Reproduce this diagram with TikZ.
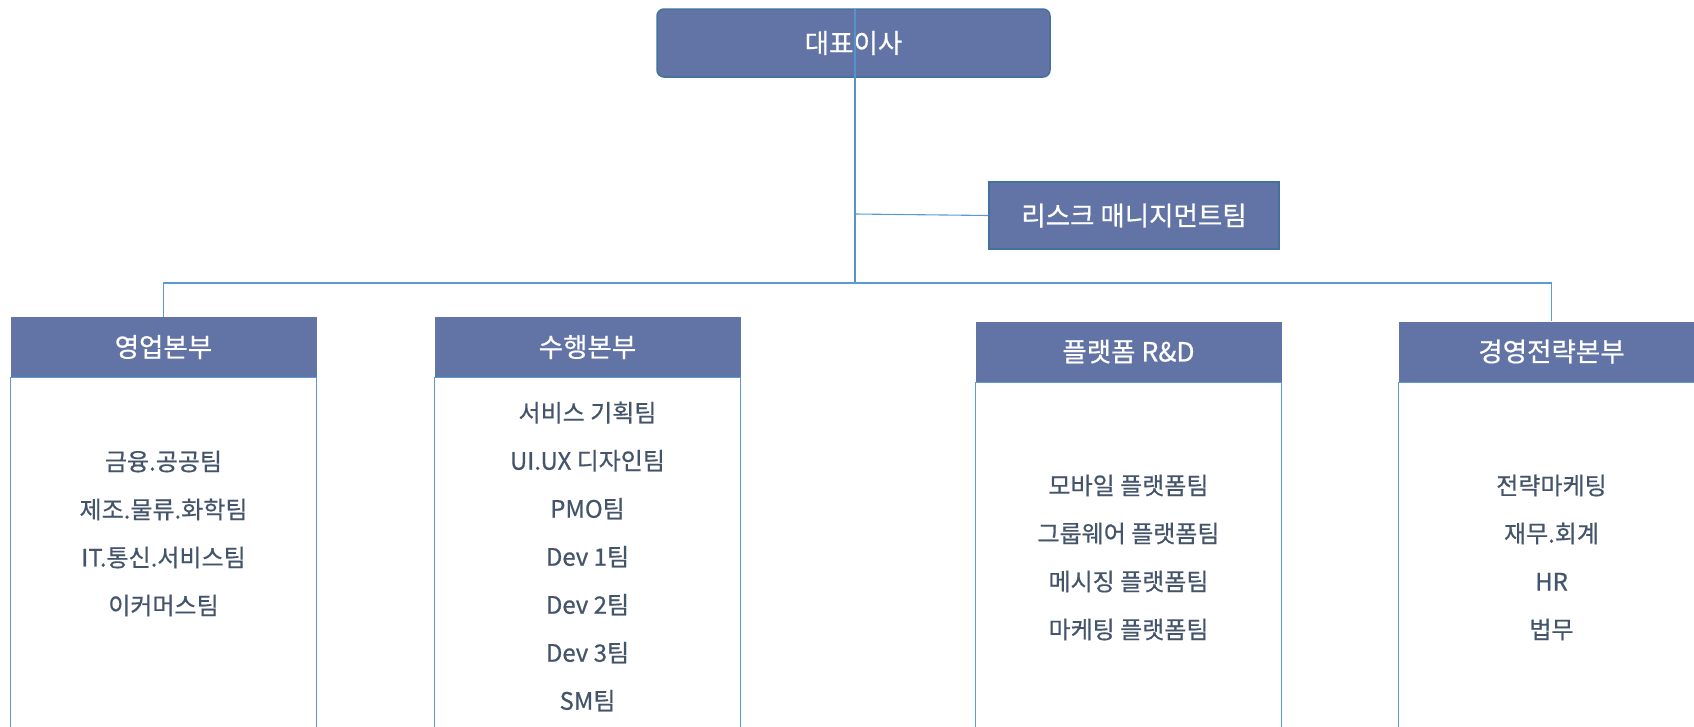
\documentclass[tikz,border=0pt]{standalone}
\usepackage{fontspec}
\setmainfont{Noto Sans CJK KR}[FakeBold=0.6]
\usetikzlibrary{positioning}
\definecolor{hdr}{HTML}{6273A5}
\definecolor{rim}{HTML}{41719C}
\definecolor{wire}{HTML}{5B9BD5}
\definecolor{ink}{HTML}{44546A}
\newcommand{\orgfont}{\fontsize{24}{48}\selectfont}
\newcommand{\headfont}{\fontsize{26.5}{30}\selectfont}

\begin{document}
\begin{tikzpicture}[x=1pt,y=-1pt,node distance=0pt,
    wire/.style={draw=wire,line width=1.1pt},
    boss/.style={draw=rim,fill=hdr,line width=1.5pt,text=white,font=\headfont,
        minimum width=393pt,minimum height=68pt,rounded corners=7pt},
    staff/.style={draw=rim,fill=hdr,line width=1.5pt,text=white,font=\headfont,
        minimum width=290pt,minimum height=67pt},
    head/.style={fill=hdr,text=white,font=\headfont,minimum width=306pt,minimum height=60pt},
    body/.style={draw=wire,line width=0.9pt,minimum width=306pt,minimum height=420pt},
    team/.style={text=ink,font=\orgfont,align=center}]
    \useasboundingbox (0,0) rectangle (1694,726);
    \clip (0,0) rectangle (1694,726);

    \node[boss] (ceo) at (853.5,43) {대표이사};
    \node[staff] (risk) at (1134,215.5) {리스크 매니지먼트팀};

    \node[head] (sales) at (163.5,347) {영업본부};
    \node[head] (exec) at (587.5,347) {수행본부};
    \node[head] (plat) at (1128.5,351.5) {플랫폼 R\&D};
    \node[head] (strat) at (1551.5,351.5) {경영전략본부};

    \node[body] (salesB) [below=of sales] {};
    \node[body] (execB) [below=of exec] {};
    \node[body] (platB) [below=of plat] {};
    \node[body] (stratB) [below=of strat] {};

    \node[team] (salesT) at (163.5,533.5) {금융.공공팀\\제조.물류.화학팀\\IT.통신.서비스팀\\이커머스팀};
    \node[team] (execT) at (587.5,556.5) {서비스 기획팀\\UI.UX 디자인팀\\PMO팀\\Dev 1팀\\Dev 2팀\\Dev 3팀\\SM팀};
    \node[team] (platT) at (1128.5,557.5) {모바일 플랫폼팀\\그룹웨어 플랫폼팀\\메시징 플랫폼팀\\마케팅 플랫폼팀};
    \node[team] (stratT) at (1551.5,557.5) {전략마케팅\\재무.회계\\HR\\법무};

    \coordinate (bus) at (855,283);
    \coordinate (tap) at (855,214);

    \draw[wire,draw=wire!80!rim] (855,9) -- (bus);
    \draw[wire] (sales.north) |- (bus) -| (strat.north);
    \draw[wire] (tap) -- (risk.west);
\end{tikzpicture}
\end{document}
